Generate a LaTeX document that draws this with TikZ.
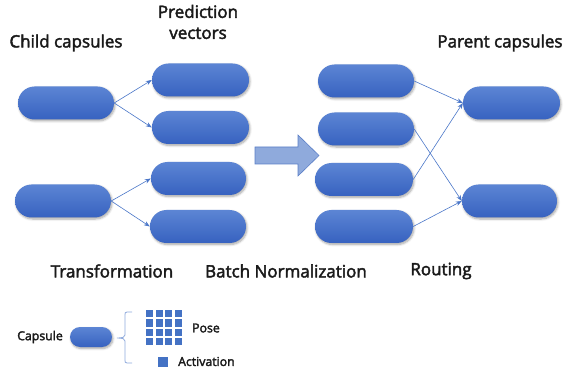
\documentclass[tikz,border=0pt]{standalone}
\usepackage{fontspec}
\setmainfont{Open Sans}
\newfontfamily\lblfont{Open Sans}[FakeBold=2.5]
\usetikzlibrary{shapes.misc,shadows.blur,arrows.meta}
\definecolor{capA}{HTML}{5C85D4}
\definecolor{capB}{HTML}{3762C0}
\definecolor{lineblue}{HTML}{4A76C8}
\definecolor{arrfill}{HTML}{8FAADC}
\definecolor{arrdraw}{HTML}{5B7FC7}
\definecolor{sq}{HTML}{4472C4}
\definecolor{txt}{HTML}{1A1A1A}
\tikzset{
  capsule/.style={rounded rectangle, minimum width=96pt, minimum height=33pt, inner sep=0pt,
    top color=capA, bottom color=capB, draw=none,
    blur shadow={shadow xshift=1pt, shadow yshift=-1.5pt, shadow blur steps=6, shadow opacity=35}},
  smallcap/.style={capsule, minimum width=42pt, minimum height=20pt},
  conn/.style={draw=lineblue, line width=0.6pt, -{Stealth[length=6pt,width=4.5pt]}},
  lbl/.style={font=\lblfont\fontsize{17}{21}\selectfont, text=txt, align=center, inner sep=0pt},
  small/.style={font=\lblfont\fontsize{12.3}{14}\selectfont, text=txt, inner sep=0pt},
  sqbox/.style={fill=sq, draw=none, minimum size=7.3pt, inner sep=0pt},
}
\begin{document}
\begin{tikzpicture}[x=1pt,y=-1pt]
\useasboundingbox (0,0) rectangle (565,374);
% child capsules
\node[capsule] (c1) at (66,103) {};
\node[capsule] (c2) at (63,201) {};
% prediction vectors
\node[capsule, minimum width=97pt] (p1) at (200.5,80) {};
\node[capsule, minimum width=97pt] (p2) at (200.5,127.5) {};
\node[capsule, minimum width=95pt] (p3) at (198.5,178.5) {};
\node[capsule, minimum width=96pt] (p4) at (198,226.5) {};
% batch normalized
\node[capsule] (b1) at (366,81) {};
\node[capsule] (b2) at (366,129) {};
\node[capsule, minimum width=98pt] (b3) at (364,179.5) {};
\node[capsule, minimum width=98pt] (b4) at (364,226.5) {};
% parent capsules
\node[capsule, minimum width=97pt] (q1) at (511.5,103) {};
\node[capsule, minimum width=95pt] (q2) at (509.5,201) {};
% connectors
\draw[conn] (c1.east) -- (p1.west);
\draw[conn] (c1.east) -- (p2.west);
\draw[conn] (c2.east) -- (p3.west);
\draw[conn] (c2.east) -- (p4.west);
\draw[conn] (b1.east) -- (q1.west);
\draw[conn] (b3.east) -- (q1.west);
\draw[conn] (b2.east) -- (q2.west);
\draw[conn] (b4.east) -- (q2.west);
% big arrow
\draw[fill=arrfill, draw=arrdraw, line width=0.6pt]
  (255,147) -- (298,147) -- (298,135) -- (319,155.5) -- (298,176) -- (298,164) -- (255,164) -- cycle;
% labels
\node[lbl] (tchild) at (66,43) {Child capsules};
\node[lbl] (tpred) at (198,22) {Prediction\\vectors};
\node[lbl] (tpar) at (500,43) {Parent capsules};
\node[lbl] (ttr) at (112,271) {Transformation};
\node[lbl] (tbn) at (286,271) {Batch Normalization};
\node[lbl] (trt) at (441,271) {Routing};
% legend
\node[small, anchor=east] (tcap) at (63,337) {Capsule};
\node[smallcap] (lc) at (91,337) {};
\draw[draw=arrfill, line width=0.8pt] (132,312) -- (127,312) .. controls (125,312) and (125,313) .. (125,315)
  -- (125,335) .. controls (125,337) and (123,338) .. (117,338)
  .. controls (123,338) and (125,339) .. (125,341) -- (125,360)
  .. controls (125,362) and (125,363) .. (127,363) -- (132,363);
\foreach \i in {0,1,2,3}{
  \foreach \j in {0,1,2,3}{
    \node[sqbox] (g\i\j) at (149.7+\i*9.5, 313.7+\j*9.3) {};
  }
}
\node[small, anchor=west] (tpose) at (192,328) {Pose};
\node[sqbox, minimum size=10pt] (act) at (163,361.5) {};
\node[small, anchor=west] (tact) at (178,361.5) {Activation};
\end{tikzpicture}
\end{document}
